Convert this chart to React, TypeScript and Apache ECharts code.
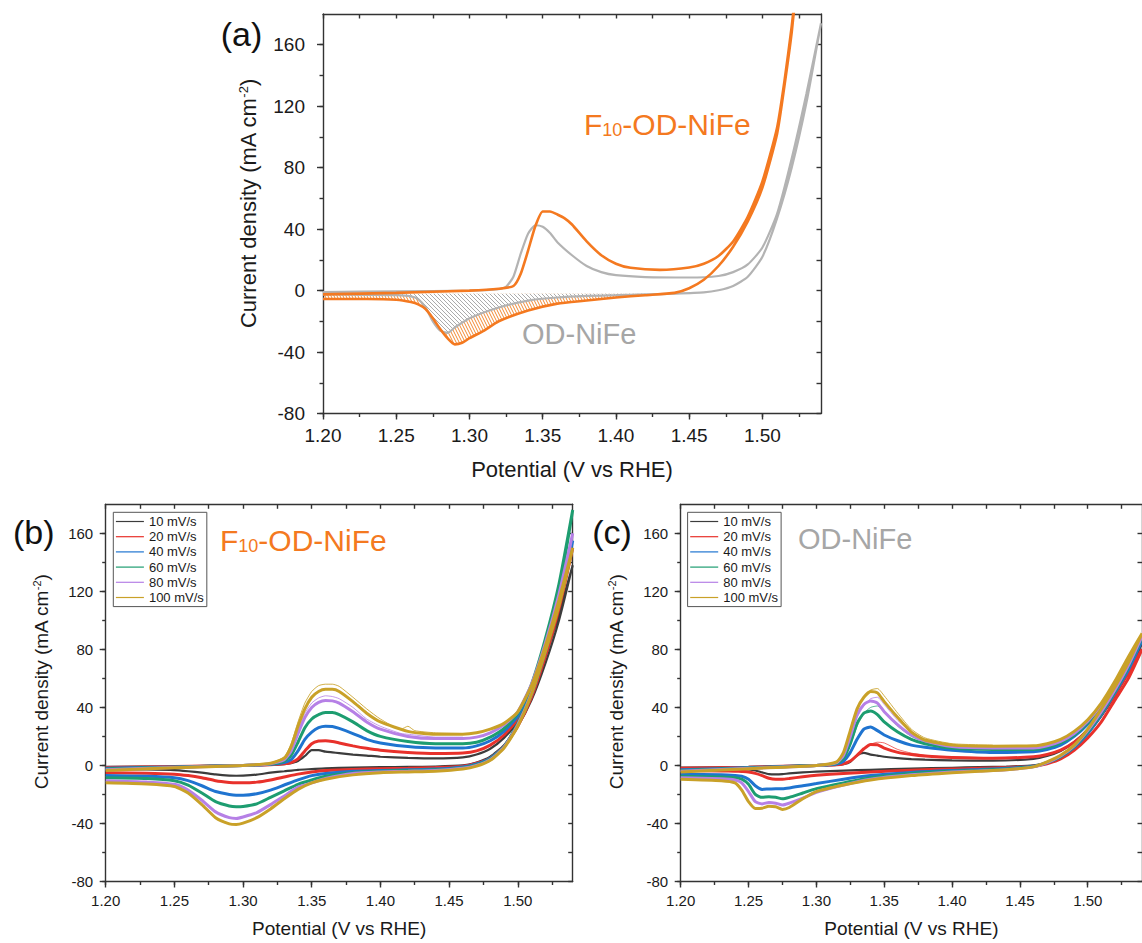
import React, { useEffect, useRef } from "react";
import * as echarts from "echarts";

const FONT = '"Liberation Sans", Arial, Helvetica, sans-serif';
const AX = "#333333";
const TXT = "#1a1a1a";
const ORANGE = "#f47920";
const GRAY = "#b3b3b3";
const GRAY_TEXT = "#a6a6a6";

// ---------- axis ticks ----------
const X_MIN = 1.2;
const X_MAX = 1.54;
const Y_MIN = -80;
const Y_MAX = 180;
const xMajorTicks = [1.2, 1.25, 1.3, 1.35, 1.4, 1.45, 1.5];
const xMinorTicks = [1.2, 1.225, 1.25, 1.275, 1.3, 1.325, 1.35, 1.375, 1.4, 1.425, 1.45, 1.475, 1.5, 1.525];
const yMajorTicks = [-80, -40, 0, 40, 80, 120, 160];
const yMinorTicks = [-80, -60, -40, -20, 0, 20, 40, 60, 80, 100, 120, 140, 160];

// ---------- panel (a) ----------
const aF10FwdV = [1.2, 1.25, 1.3, 1.32, 1.33, 1.335, 1.34, 1.345, 1.35, 1.355, 1.36, 1.365, 1.37, 1.38, 1.39, 1.4, 1.41, 1.43, 1.45, 1.46, 1.47, 1.48, 1.49, 1.5, 1.51, 1.515, 1.52, 1.525];
const aF10FwdJ = [-2.5, -1.5, 0, 1.2, 3, 11, 26, 42, 51.5, 51.5, 49.5, 47, 43, 32, 23, 17.5, 14.8, 13.5, 15, 17.5, 22.5, 32, 48, 71, 106, 136, 172, 215];
const aF10RevV = [1.525, 1.52, 1.515, 1.51, 1.5, 1.49, 1.48, 1.47, 1.46, 1.45, 1.44, 1.42, 1.4, 1.38, 1.36, 1.34, 1.32, 1.31, 1.3, 1.295, 1.29, 1.285, 1.28, 1.275, 1.27, 1.265, 1.26, 1.25, 1.23, 1.2];
const aF10RevJ = [215, 168, 133, 102, 67, 45, 28.5, 16, 7, 1.5, -1.5, -3, -4.5, -6.5, -8.5, -13, -20, -26, -31, -34, -35, -31, -25, -18, -12, -9, -7.5, -6, -5.5, -5.5];
const aODFwdV = [1.2, 1.25, 1.3, 1.32, 1.325, 1.33, 1.335, 1.34, 1.345, 1.35, 1.355, 1.36, 1.37, 1.38, 1.39, 1.4, 1.42, 1.45, 1.47, 1.48, 1.49, 1.5, 1.51, 1.52, 1.53, 1.54];
const aODFwdJ = [-1, -0.5, 0, 1, 2.5, 9, 24, 37, 42.5, 41.5, 37.5, 31.5, 23, 16, 12, 10, 8.8, 8.5, 9.5, 12, 17, 28, 50, 86, 128, 174];
const aODRevV = [1.54, 1.53, 1.52, 1.51, 1.5, 1.49, 1.48, 1.47, 1.46, 1.44, 1.42, 1.4, 1.38, 1.36, 1.34, 1.32, 1.3, 1.29, 1.285, 1.28, 1.275, 1.27, 1.265, 1.26, 1.25, 1.23, 1.2];
const aODRevJ = [174, 122, 80, 47, 22, 9, 3, 0.2, -1.2, -2, -2.5, -3, -3.5, -4.5, -6.5, -11, -18, -24, -27.5, -26, -20, -11, -5.5, -3.8, -3, -2.8, -2.5];

// ---------- panels (b) and (c) legend ----------
const rateNames = ["10 mV/s", "20 mV/s", "40 mV/s", "60 mV/s", "80 mV/s", "100 mV/s"];
const rateColors = ["#3c3c3c", "#e8312b", "#1f74d0", "#1d9d70", "#b680e6", "#c9a128"];

// ---------- panel (b): F10-OD-NiFe ----------
const bFwdV = [1.2, 1.25, 1.3, 1.32, 1.33, 1.335, 1.34, 1.345, 1.35, 1.355, 1.36, 1.365, 1.37, 1.38, 1.39, 1.4, 1.42, 1.44, 1.46, 1.47, 1.48, 1.49, 1.5, 1.51, 1.52, 1.53, 1.54];
const b10Fwd = [-1, -0.6, 0, 0.3, 0.8, 1.5, 3, 6.5, 10.5, 10.5, 9.5, 9, 8.5, 7.5, 6.8, 6, 5.2, 4.8, 5.5, 7.5, 11.5, 19, 30, 48, 75, 105, 138];
const b20Fwd = [-1.5, -0.8, 0, 0.5, 1.2, 2, 4.5, 10, 15, 16.8, 17, 16.5, 15.5, 13.5, 11.8, 10.5, 9, 8.2, 8.5, 10, 14, 21, 32, 51, 79, 112, 150];
const b40Fwd = [-2, -1, 0, 0.8, 2, 4, 10, 18, 23, 26, 27, 26.8, 25.5, 22, 18, 15.5, 13, 12, 12, 13.5, 17, 23.5, 34, 53, 81, 115, 155];
const b60Fwd = [-2.5, -1.2, 0, 1, 3, 7, 16, 26, 32, 35, 36.5, 36.5, 35, 30, 24, 20, 16.5, 15, 15, 16, 19.5, 25.5, 36, 56, 87, 125, 176];
const b80Fwd = [-3, -1.4, 0, 1.2, 4, 10, 22, 33, 40, 43.5, 44.8, 44.5, 43, 37, 30, 25, 20, 18.5, 18.5, 19.5, 22.5, 28, 37, 56, 84, 118, 160];
const b100Fwd = [-3.5, -1.6, 0, 1.5, 5, 13, 27, 39, 47, 51, 52.5, 52.5, 51, 44, 36, 30, 23.5, 21.5, 21.5, 22.5, 25, 29, 37, 55, 82, 114, 150];

const bRevV = [1.54, 1.53, 1.52, 1.51, 1.5, 1.49, 1.48, 1.47, 1.46, 1.44, 1.42, 1.4, 1.38, 1.36, 1.35, 1.34, 1.33, 1.32, 1.31, 1.3, 1.295, 1.29, 1.28, 1.27, 1.26, 1.25, 1.23, 1.2];
const b10Rev = [138, 100, 70, 45, 27, 14, 6, 2, 0, -0.8, -1, -1.2, -1.5, -2, -2.5, -3, -4, -5, -6.3, -7, -7.1, -7, -6.2, -5, -4, -3.2, -2.8, -2.5];
const b20Rev = [150, 108, 75, 47, 27, 13, 5, 1.5, -0.5, -1.5, -2, -2.3, -2.8, -3.5, -4.5, -6, -8, -10, -11.5, -12, -12, -11.7, -10.5, -8.5, -7, -6, -5.3, -5];
const b40Rev = [155, 112, 78, 49, 28, 13, 5, 1, -1, -2.5, -3, -3.5, -4, -5.5, -7, -10, -13.5, -17, -19.5, -20.5, -20.5, -20, -18, -14, -10.5, -8.5, -7.5, -7];
const b60Rev = [176, 120, 82, 51, 29, 13, 4.5, 0.5, -1.5, -3, -3.5, -4, -5, -7.5, -10, -13, -17.5, -22, -26.5, -28.3, -28.5, -28, -25, -19, -13.5, -10.5, -9, -8.5];
const b80Rev = [160, 114, 80, 50, 28, 12.5, 4, 0, -2, -3.5, -4, -4.5, -5.5, -9, -12, -15, -21, -27, -32.5, -35.5, -36.5, -36, -32, -24, -17, -13, -11.5, -10.5];
const b100Rev = [150, 110, 78, 49, 27, 12, 3.5, -0.5, -2.5, -4, -4.5, -5, -6.5, -9.5, -12, -16.5, -23, -30, -36, -39.8, -40.7, -40.3, -36, -27, -19, -14.5, -12.8, -12];

// thin outlier cycles in (b)
const bThinV = [1.32, 1.33, 1.335, 1.34, 1.345, 1.35, 1.355, 1.36, 1.365, 1.37, 1.38, 1.39, 1.4, 1.415, 1.42, 1.425, 1.44, 1.46];
const b100Thin = [1.5, 6, 15, 30, 43, 51, 55, 56, 56, 54.5, 47, 39, 32, 25, 27, 24, 22.5, 22];
const b80Thin = [1.2, 4.5, 11, 24, 36, 43, 46.5, 48, 47.5, 46, 40, 32, 27, 22, 21.5, 21, 19.5, 19.5];

// ---------- panel (c): OD-NiFe ----------
const cFwdV = [1.2, 1.25, 1.3, 1.315, 1.32, 1.325, 1.33, 1.335, 1.34, 1.345, 1.35, 1.36, 1.37, 1.38, 1.4, 1.43, 1.46, 1.47, 1.48, 1.49, 1.5, 1.51, 1.52, 1.53, 1.54];
const c10Fwd = [-1.5, -1, 0, 0.3, 0.8, 2.5, 7, 8.7, 7.5, 6.8, 6, 5, 4.4, 4, 3.5, 3.3, 4.5, 6.5, 10, 16, 25, 37, 52, 68, 84];
const c20Fwd = [-2, -1.2, 0, 0.5, 1.2, 3, 7, 11.5, 14.5, 14.3, 12, 9, 7.5, 6.5, 5.5, 5, 6, 7.5, 10.5, 16, 24, 35, 49, 64, 80];
const c40Fwd = [-3, -1.5, 0, 1, 3, 9, 18, 25, 26.5, 24, 21, 17, 14, 12.5, 10.5, 9, 9.5, 11, 14, 20, 28.5, 39.5, 54, 70, 86];
const c60Fwd = [-3.5, -1.8, 0, 1.5, 5, 15, 29, 36, 37.5, 35, 30, 23, 18, 15, 12, 11, 11, 12.5, 15.5, 21, 29.5, 40.5, 55, 72, 88];
const c80Fwd = [-4, -2, 0, 2, 7, 20, 35, 42, 44.5, 43, 37, 28, 21, 17, 13, 12, 12, 13.5, 16.5, 22, 30.5, 41.5, 56, 73, 89];
const c100Fwd = [-4.5, -2.2, 0, 2.5, 9, 24, 39, 47, 51, 50, 44, 33, 23, 17.5, 14, 13.3, 13.5, 15, 18, 23.5, 31.5, 43, 58, 75, 91];

const cRevV = [1.54, 1.53, 1.52, 1.51, 1.5, 1.49, 1.48, 1.47, 1.46, 1.44, 1.42, 1.4, 1.37, 1.34, 1.32, 1.3, 1.29, 1.28, 1.275, 1.27, 1.265, 1.26, 1.255, 1.25, 1.245, 1.24, 1.23, 1.2];
const c10Rev = [84, 64, 48, 34, 22, 12.5, 6, 2, 0, -0.8, -1.2, -1.6, -2.2, -3, -3.6, -4.3, -4.8, -5.5, -6, -6.2, -6, -4.8, -3.5, -2.8, -2.5, -2.3, -2.1, -2];
const c20Rev = [80, 60, 45, 30, 19, 10.5, 4.5, 1.2, -0.5, -1.5, -2, -2.5, -3.3, -4.5, -5.5, -6.8, -7.8, -9, -9.5, -9.5, -8.8, -7, -5.5, -4.5, -4.2, -4, -3.8, -3.5];
const c40Rev = [86, 66, 50, 35, 22, 12.5, 6, 2, -0.5, -2, -2.8, -3.5, -4.8, -7, -9.5, -12.5, -14, -15.5, -16, -16, -16.2, -16.5, -14, -9.5, -7.5, -7, -6.5, -6];
const c60Rev = [88, 68, 51, 36, 23, 13, 6, 2, -0.8, -2.5, -3.3, -4, -5.5, -8.5, -12, -16, -19, -22, -23, -22, -21.5, -22, -20, -13, -9.5, -8.5, -8, -7.5];
const c80Rev = [89, 69, 52, 37, 24, 13.5, 6.5, 2, -1, -3, -3.8, -4.5, -6.5, -9.5, -13.5, -18.5, -22.5, -26, -27.3, -26, -25.5, -26.5, -25, -18, -12, -10, -9.2, -8.5];
const c100Rev = [91, 71, 54, 39, 25, 14, 7, 2.5, -1, -3, -4, -5, -7, -10, -13.5, -18, -23, -29, -30.3, -28.5, -28.2, -29.5, -29.7, -25, -17, -12, -10.5, -9.5];

// thin outlier cycles in (c)
const cThinV = [1.315, 1.32, 1.325, 1.33, 1.335, 1.34, 1.345, 1.35, 1.36, 1.37, 1.38, 1.4, 1.43];
const c20Thin = [0.5, 1.2, 3, 6.5, 11, 14.5, 16, 15.5, 11, 8.5, 7, 6, 5.2];
const c60Thin = [1.5, 5, 14, 27, 36, 40, 41, 37, 27, 20, 16, 12.5, 11.5];
const c80Thin = [2, 7, 19, 33, 41, 46, 47, 42, 31, 23, 18, 14, 12.5];
const c100Thin = [2.5, 9, 23, 38, 47, 52, 53, 48, 36, 25, 19, 15, 14];

const bFwd = [b10Fwd, b20Fwd, b40Fwd, b60Fwd, b80Fwd, b100Fwd];
const bRev = [b10Rev, b20Rev, b40Rev, b60Rev, b80Rev, b100Rev];
const cFwd = [c10Fwd, c20Fwd, c40Fwd, c60Fwd, c80Fwd, c100Fwd];
const cRev = [c10Rev, c20Rev, c40Rev, c60Rev, c80Rev, c100Rev];

const HATCH_END = 1.43;
const HATCH_BASE = -2;

function loop(fv: number[], fj: number[], rv: number[], rj: number[]) {
  return [...fv.map((v, i) => [v, fj[i]]), ...rv.map((v, i) => [v, rj[i]])];
}
function pairs(v: number[], j: number[]) {
  return v.map((x, i) => [x, j[i]]);
}

function makeHatch(w: number, h: number, color: string, bg: string | null) {
  const c = document.createElement("canvas");
  c.width = w;
  c.height = h;
  const ctx = c.getContext("2d")!;
  if (bg) {
    ctx.fillStyle = bg;
    ctx.fillRect(0, 0, w, h);
  }
  ctx.strokeStyle = color;
  ctx.lineWidth = 1;
  ctx.beginPath();
  for (const dx of [-w, 0, w]) {
    ctx.moveTo(dx, 0);
    ctx.lineTo(dx + w, h);
  }
  ctx.stroke();
  return c;
}

type Panel = {
  left: number; right: number; top: number; bottom: number;
  tickFont: number; xMargin: number; yMargin: number; titleFont: number;
  xGap: number; yGap: number; yShift: number; supFont: number;
};

const panels: Panel[] = [
  { left: 323, right: 321, top: 14, bottom: 529.5, tickFont: 19, xMargin: 12, yMargin: 18, titleFont: 22, xGap: 45, yGap: 64, yShift: 20, supFont: 13 },
  { left: 105.7, right: 569.3, top: 504.3, bottom: 61.5, tickFont: 15, xMargin: 11.5, yMargin: 12.5, titleFont: 19, xGap: 37.5, yGap: 55, yShift: 22, supFont: 11 },
  { left: 680.7, right: -6.3, top: 504.3, bottom: 61.5, tickFont: 15, xMargin: 11.5, yMargin: 12.5, titleFont: 19, xGap: 37.5, yGap: 55, yShift: 22, supFont: 11 },
];

function buildAxes(g: number, p: Panel) {
  const ls = { color: AX, width: 1.4 };
  const base = { type: "value", gridIndex: g, splitLine: { show: false } };
  const xr = { min: X_MIN, max: X_MAX };
  const yr = { min: Y_MIN, max: Y_MAX };
  const xAxes = [
    {
      ...base, ...xr, position: "bottom", interval: 0.05,
      axisLine: { show: true, onZero: false, lineStyle: ls },
      axisTick: { show: true, inside: false, length: 6, lineStyle: ls, customValues: xMajorTicks },
      axisLabel: {
        show: true, margin: p.xMargin, fontSize: p.tickFont, color: TXT, fontFamily: FONT,
        customValues: xMajorTicks,
        formatter: (v: number) => Number(v).toFixed(2),
      },
      name: "Potential (V vs RHE)", nameLocation: "middle", nameGap: p.xGap,
      nameTextStyle: { fontSize: p.titleFont, color: TXT, fontFamily: FONT },
    },
    {
      ...base, ...xr, position: "bottom", interval: 0.025,
      axisLine: { show: false, onZero: false },
      axisTick: { show: true, inside: false, length: 3.5, lineStyle: ls, customValues: xMinorTicks },
      axisLabel: { show: false },
    },
    {
      ...base, ...xr, position: "top", interval: 0.025,
      axisLine: { show: true, onZero: false, lineStyle: ls },
      axisTick: { show: true, inside: true, length: 4.5, lineStyle: ls, customValues: xMinorTicks },
      axisLabel: { show: false },
    },
  ];
  const yAxes = [
    {
      ...base, ...yr, position: "left", interval: 40,
      axisLine: { show: true, onZero: false, lineStyle: ls },
      axisTick: { show: true, inside: false, length: 6, lineStyle: ls, customValues: yMajorTicks },
      axisLabel: {
        show: true, margin: p.yMargin, fontSize: p.tickFont, color: TXT, fontFamily: FONT,
        customValues: yMajorTicks,
      },
      name: "Current density (mA cm{sup|-2})", nameLocation: "middle", nameGap: p.yGap,
      nameTextStyle: {
        fontSize: p.titleFont, color: TXT, fontFamily: FONT, padding: [0, 0, 0, p.yShift],
        rich: { sup: { fontSize: p.supFont, color: TXT, fontFamily: FONT, verticalAlign: "top", lineHeight: 9 } },
      },
    },
    {
      ...base, ...yr, position: "left", interval: 20,
      axisLine: { show: false, onZero: false },
      axisTick: { show: true, inside: false, length: 3.5, lineStyle: ls, customValues: yMinorTicks },
      axisLabel: { show: false },
    },
    {
      ...base, ...yr, position: "right", interval: 20,
      axisLine: { show: true, onZero: false, lineStyle: ls },
      axisTick: { show: true, inside: true, length: 4.5, lineStyle: ls, customValues: yMinorTicks },
      axisLabel: { show: false },
    },
  ];
  return { xAxes, yAxes };
}

function textEl(x: number, y: number, text: string, size: number, color: string, rich?: any, align = "left") {
  return {
    type: "text",
    x,
    y,
    silent: true,
    style: {
      text,
      font: `${size}px ${FONT}`,
      fontSize: size,
      fontFamily: FONT,
      fill: color,
      align,
      textAlign: align,
      verticalAlign: "middle",
      textVerticalAlign: "middle",
      rich,
    },
  };
}

function subRich(color: string) {
  return {
    sub: {
      font: `18px ${FONT}`,
      fontSize: 18,
      fontFamily: FONT,
      fill: color,
      color,
      verticalAlign: "bottom",
      lineHeight: 2,
    },
  };
}

export default function App() {
  const ref = useRef<HTMLDivElement>(null);

  useEffect(() => {
    if (!ref.current) return;
    const chart = echarts.init(ref.current, undefined, { renderer: "svg" });

    const orangeHatch = makeHatch(3, 6, "#f28a35", null);
    const grayHatch = makeHatch(4, 4, "#ababab", "#ffffff");

    const grids: any[] = [];
    const xAxis: any[] = [];
    const yAxis: any[] = [];
    panels.forEach((p, g) => {
      grids.push({ left: p.left, right: p.right, top: p.top, bottom: p.bottom, containLabel: false });
      const { xAxes, yAxes } = buildAxes(g, p);
      xAxis.push(...xAxes);
      yAxis.push(...yAxes);
    });

    const lineBase = { type: "line", symbol: "none", showSymbol: false, smooth: 0.2, silent: true, animation: false };

    const hatch = (vs: number[], js: number[]) =>
      vs.map((v, i) => [v, js[i]]).filter((pt) => pt[0] <= HATCH_END);

    const series: any[] = [
      {
        ...lineBase, name: "F10 hatch", xAxisIndex: 0, yAxisIndex: 0,
        data: hatch(aF10RevV, aF10RevJ),
        lineStyle: { width: 0, opacity: 0 },
        areaStyle: { color: { image: orangeHatch, repeat: "repeat" }, origin: HATCH_BASE, opacity: 1 },
      },
      {
        ...lineBase, name: "OD hatch", xAxisIndex: 0, yAxisIndex: 0,
        data: hatch(aODRevV, aODRevJ),
        lineStyle: { width: 0, opacity: 0 },
        areaStyle: { color: { image: grayHatch, repeat: "repeat" }, origin: HATCH_BASE, opacity: 1 },
      },
      {
        ...lineBase, name: "OD-NiFe", xAxisIndex: 0, yAxisIndex: 0,
        data: loop(aODFwdV, aODFwdJ, aODRevV, aODRevJ),
        lineStyle: { color: GRAY, width: 2.2 }, itemStyle: { color: GRAY },
      },
      {
        ...lineBase, name: "F10-OD-NiFe", xAxisIndex: 0, yAxisIndex: 0,
        data: loop(aF10FwdV, aF10FwdJ, aF10RevV, aF10RevJ),
        lineStyle: { color: ORANGE, width: 2.6 }, itemStyle: { color: ORANGE },
      },
    ];

    // panel (b)
    series.push(
      { ...lineBase, name: "b80 thin", xAxisIndex: 3, yAxisIndex: 3, data: pairs(bThinV, b80Thin), lineStyle: { color: rateColors[4], width: 1, opacity: 0.8 } },
      { ...lineBase, name: "b100 thin", xAxisIndex: 3, yAxisIndex: 3, data: pairs(bThinV, b100Thin), lineStyle: { color: rateColors[5], width: 1, opacity: 0.85 } },
    );
    rateNames.forEach((name, i) => {
      series.push({
        ...lineBase, name, xAxisIndex: 3, yAxisIndex: 3,
        data: loop(bFwdV, bFwd[i], bRevV, bRev[i]),
        lineStyle: { color: rateColors[i], width: i === 0 ? 2.2 : 3 }, itemStyle: { color: rateColors[i] },
      });
    });

    // panel (c)
    series.push(
      { ...lineBase, name: "c20 thin", xAxisIndex: 6, yAxisIndex: 6, data: pairs(cThinV, c20Thin), lineStyle: { color: rateColors[1], width: 1, opacity: 0.7 } },
      { ...lineBase, name: "c60 thin", xAxisIndex: 6, yAxisIndex: 6, data: pairs(cThinV, c60Thin), lineStyle: { color: rateColors[3], width: 1, opacity: 0.7 } },
      { ...lineBase, name: "c80 thin", xAxisIndex: 6, yAxisIndex: 6, data: pairs(cThinV, c80Thin), lineStyle: { color: rateColors[4], width: 1, opacity: 0.8 } },
      { ...lineBase, name: "c100 thin", xAxisIndex: 6, yAxisIndex: 6, data: pairs(cThinV, c100Thin), lineStyle: { color: rateColors[5], width: 1, opacity: 0.85 } },
    );
    rateNames.forEach((name, i) => {
      series.push({
        ...lineBase, name, xAxisIndex: 6, yAxisIndex: 6,
        data: loop(cFwdV, cFwd[i], cRevV, cRev[i]),
        lineStyle: { color: rateColors[i], width: i === 0 ? 2.2 : 3 }, itemStyle: { color: rateColors[i] },
      });
    });

    const legendBase = {
      data: rateNames,
      orient: "vertical",
      top: 512.3,
      itemWidth: 28,
      itemHeight: 14,
      itemGap: 2.2,
      padding: [2.7, 3, 2.6, 2],
      borderColor: "#555555",
      borderWidth: 1,
      backgroundColor: "#ffffff",
      selectedMode: false,
      lineStyle: { width: 1.2 },
      itemStyle: { opacity: 0, borderWidth: 0 },
      textStyle: { fontSize: 13, color: TXT, fontFamily: FONT },
    };

    const option: any = {
      animation: false,
      backgroundColor: "#ffffff",
      grid: grids,
      xAxis,
      yAxis,
      series,
      legend: [
        { ...legendBase, left: 113.3 },
        { ...legendBase, left: 687.6 },
      ],
      graphic: {
        elements: [
          textEl(241.5, 33.5, "(a)", 34, "#111111", undefined, "center"),
          textEl(33.7, 532, "(b)", 34, "#111111", undefined, "center"),
          textEl(612, 532, "(c)", 34, "#111111", undefined, "center"),
          textEl(584, 124, "F{sub|10}-OD-NiFe", 30, ORANGE, subRich(ORANGE)),
          textEl(522, 334, "OD-NiFe", 29, GRAY_TEXT),
          textEl(220, 540, "F{sub|10}-OD-NiFe", 30, ORANGE, subRich(ORANGE)),
          textEl(798, 539, "OD-NiFe", 29, GRAY_TEXT),
        ],
      },
    };

    chart.setOption(option);
    return () => chart.dispose();
  }, []);

  return <div ref={ref} style={{ position: "absolute", left: 0, top: 0, width: 1142, height: 943 }} />;
}
